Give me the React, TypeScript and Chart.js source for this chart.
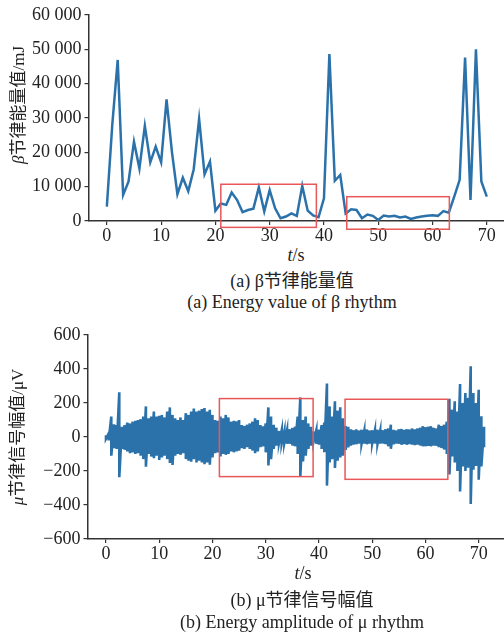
import React, { useEffect, useRef } from "react";
import { Chart, registerables } from "chart.js";

Chart.register(...registerables);

// ---------- data ----------
const betaTimes = [
  0, 1, 2, 3, 4, 5, 6, 7, 8, 9, 10, 11, 12, 13, 14, 15, 16, 17, 18, 19, 20, 21, 22, 23, 24, 25, 26, 27, 28, 29,
  30, 31, 32, 33, 34, 35, 36, 37, 38, 39, 40, 41, 42, 43, 44, 45, 46, 47, 48, 49, 50, 51, 52, 53, 54, 55, 56, 57,
  58, 59, 60, 61, 62, 63, 64, 65, 66, 67, 68, 69, 70,
];
const betaEnergy = [
  4200, 28000, 46900, 7600, 11500, 23100, 15300, 27700, 17100, 21700,
  17100, 35400, 20000, 7800, 12600, 8700, 15000, 29700, 13600, 17300,
  3000, 5100, 4700, 8300, 6100, 2600, 3200, 3600, 9800, 2800,
  9000, 3700, 800, 1300, 2200, 1500, 10200, 3000, 1600, 1100,
  6600, 48600, 11700, 13400, 2200, 3400, 3200, 800, 1900, 1500,
  300, 1600, 1300, 1500, 1000, 1300, 600, 1000, 1300, 1500,
  1700, 1500, 2900, 2400, 7100, 12000, 47600, 6100, 50000, 11500, 7100,
];

const muTimes = [
  0, 0.5, 1, 1.5, 2, 2.5, 3, 3.5, 4, 4.5, 5, 5.5, 6, 6.5, 7, 7.5, 8, 8.5, 9, 9.5,
  10, 10.5, 11, 11.5, 12, 12.5, 13, 13.5, 14, 14.5, 15, 15.5, 16, 16.5, 17, 17.5, 18, 18.5, 19, 19.5,
  20, 20.5, 21, 21.5, 22, 22.5, 23, 23.5, 24, 24.5, 25, 25.5, 26, 26.5, 27, 27.5, 28, 28.5, 29, 29.5,
  30, 30.5, 31, 31.5, 32, 32.5, 33, 33.5, 34, 34.5, 35, 35.5, 36, 36.5, 37, 37.5, 38, 38.5, 39, 39.5,
  40, 40.5, 41, 41.5, 42, 42.5, 43, 43.5, 44, 44.5, 45, 45.5, 46, 46.5, 47, 47.5, 48, 48.5, 49, 49.5,
  50, 50.5, 51, 51.5, 52, 52.5, 53, 53.5, 54, 54.5, 55, 55.5, 56, 56.5, 57, 57.5, 58, 58.5, 59, 59.5,
  60, 60.5, 61, 61.5, 62, 62.5, 63, 63.5, 64, 64.5, 65, 65.5, 66, 66.5, 67, 67.5, 68, 68.5, 69, 69.5,
  70, 70.5, 71,
];
const muUpper = [
  10, 20, 120, 75, 70, 263, 60, 70, 85, 80,
  90, 95, 100, 105, 120, 180, 110, 120, 150, 120,
  125, 130, 115, 150, 174, 130, 110, 100, 115, 100,
  140, 130, 150, 167, 150, 155, 165, 170, 150, 160,
  130, 100, 95, 120, 110, 130, 115, 90, 95, 92,
  100, 70, 65, 72, 80, 90, 110, 100, 70, 63,
  80, 174, 120, 72, 55, 35, 40, 35, 40, 45,
  53, 60, 120, 233, 100, 120, 80, 60, 33, 40,
  43, 70, 85, 314, 180, 120, 210, 155, 175, 110,
  65, 60, 45, 40, 45, 38, 42, 36, 44, 38,
  40, 38, 42, 36, 40, 45, 50, 72, 42, 38,
  45, 47, 42, 45, 44, 50, 45, 50, 55, 63,
  58, 60, 63, 55, 50, 72, 65, 72, 90, 225,
  161, 210, 150, 312, 200, 259, 230, 416, 259, 200,
  278, 122, 60,
];
const muLower = [
  -10, -20, -110, -65, -70, -237, -70, -75, -85, -95,
  -90, -100, -95, -110, -130, -175, -100, -115, -125, -110,
  -135, -120, -110, -130, -153, -165, -110, -100, -105, -95,
  -130, -140, -145, -130, -150, -140, -150, -160, -150, -163,
  -120, -95, -90, -114, -100, -105, -100, -85, -90, -85,
  -80, -65, -70, -60, -70, -80, -95, -85, -60, -55,
  -90, -167, -130, -70, -50, -35, -38, -35, -40, -40,
  -50, -55, -100, -231, -143, -110, -70, -50, -25, -40,
  -45, -70, -90, -286, -150, -130, -182, -140, -120, -110,
  -75, -60, -50, -45, -42, -38, -40, -38, -42, -38,
  -38, -38, -40, -38, -38, -42, -55, -69, -42, -38,
  -40, -45, -42, -45, -42, -45, -48, -45, -50, -55,
  -55, -52, -55, -50, -52, -60, -65, -74, -100, -221,
  -114, -150, -200, -320, -173, -200, -180, -394, -192, -170,
  -251, -173, -60,
];

const xTickValues = [0, 10, 20, 30, 40, 50, 60, 70];
const betaYTicks = [0, 10000, 20000, 30000, 40000, 50000, 60000];
const muYTicks = [-600, -400, -200, 0, 200, 400, 600];

// highlight boxes: [tStart, tEnd, yBottom, yTop]
const betaBoxes = [
  [21.0, 38.6, -1850, 10700],
  [44.2, 63.1, -2400, 7080],
];
const muBoxes = [
  [21.3, 38.9, -233, 226],
  [44.9, 64.2, -249, 222],
];

// ---------- styles ----------
const BLUE = "#2b72aa";
const RED = "#e8585a";
const AXIS = "#333333";
const TEXT = "#222222";
const SERIF = '"Liberation Serif", "Times New Roman", "Noto Sans CJK SC", serif';

const fmtSpace = (v: number) => {
  const s = String(Math.abs(v)).replace(/\B(?=(\d{3})+(?!\d))/g, " ");
  return (v < 0 ? "\u2212" : "") + s;
};

const boxPlugin = (boxes: number[][]) => ({
  id: "boxes",
  afterDraw(chart: any) {
    const { ctx } = chart;
    const x = chart.scales.x;
    const y = chart.scales.y;
    ctx.save();
    ctx.strokeStyle = RED;
    ctx.lineWidth = 1.5;
    boxes.forEach((b) => {
      const x0 = x.getPixelForValue(b[0]);
      const x1 = x.getPixelForValue(b[1]);
      const y0 = y.getPixelForValue(b[2]);
      const y1 = y.getPixelForValue(b[3]);
      ctx.strokeRect(x0, y1, x1 - x0, y0 - y1);
    });
    ctx.restore();
  },
});

function makeScales(xMin: number, xMax: number, yMin: number, yMax: number, yTicks: number[], yWidth: number, xHeight: number) {
  const tickFont = { family: SERIF, size: 18 };
  return {
    x: {
      type: "linear",
      min: xMin,
      max: xMax,
      afterBuildTicks: (s: any) => {
        s.ticks = xTickValues.map((v) => ({ value: v }));
      },
      afterFit: (s: any) => {
        s.height = xHeight;
      },
      ticks: { font: tickFont, color: TEXT, padding: 0, maxRotation: 0, autoSkip: false, callback: (v: any) => String(v) },
      grid: { drawOnChartArea: false, drawTicks: true, tickLength: 4, color: AXIS, lineWidth: 1.2 },
      border: { display: true, color: AXIS, width: 1.5 },
    },
    y: {
      type: "linear",
      min: yMin,
      max: yMax,
      afterBuildTicks: (s: any) => {
        s.ticks = yTicks.map((v) => ({ value: v }));
      },
      afterFit: (s: any) => {
        s.width = yWidth;
      },
      ticks: { font: tickFont, color: TEXT, padding: 3, autoSkip: false, callback: (v: any) => fmtSpace(Number(v)) },
      grid: { drawOnChartArea: false, drawTicks: true, tickLength: 4, color: AXIS, lineWidth: 1.2 },
      border: { display: true, color: AXIS, width: 1.5 },
    },
  };
}

function BetaChart() {
  const ref = useRef<HTMLCanvasElement | null>(null);
  useEffect(() => {
    if (!ref.current) return;
    const pts = betaTimes.map((t, i) => ({ x: t, y: betaEnergy[i] }));
    const chart = new Chart(ref.current, {
      type: "line",
      data: {
        datasets: [
          {
            data: pts,
            borderColor: BLUE,
            borderWidth: 2.5,
            pointRadius: 0,
            tension: 0,
            fill: false,
          },
        ],
      },
      options: {
        animation: false,
        responsive: false,
        devicePixelRatio: 1,
        layout: { padding: { top: 15, left: 0, right: 0, bottom: 0 } },
        plugins: { legend: { display: false }, tooltip: { enabled: false }, title: { display: false } },
        scales: makeScales(-3.38, 73.17, 0, 60000, betaYTicks, 88.5, 24) as any,
      },
      plugins: [boxPlugin(betaBoxes)],
    } as any);
    return () => chart.destroy();
  }, []);
  return <canvas ref={ref} width={504} height={245} style={{ position: "absolute", left: 0, top: 0, width: 504, height: 245 }} />;
}

function MuChart() {
  const ref = useRef<HTMLCanvasElement | null>(null);
  useEffect(() => {
    if (!ref.current) return;
    const pts: { x: number; y: number }[] = [];
    muTimes.forEach((t, i) => {
      pts.push({ x: t, y: muUpper[i] });
      pts.push({ x: t, y: muLower[i] });
    });
    const chart = new Chart(ref.current, {
      type: "line",
      data: {
        datasets: [
          {
            data: pts,
            borderColor: BLUE,
            backgroundColor: BLUE,
            borderWidth: 2.6,
            borderJoinStyle: "miter",
            pointRadius: 0,
            tension: 0,
            fill: false,
          },
        ],
      },
      options: {
        animation: false,
        responsive: false,
        devicePixelRatio: 1,
        layout: { padding: { top: 15, left: 0, right: 0, bottom: 0 } },
        plugins: { legend: { display: false }, tooltip: { enabled: false }, title: { display: false } },
        scales: makeScales(-3.47, 74.75, -600, 600, muYTicks, 87.5, 27) as any,
      },
      plugins: [boxPlugin(muBoxes)],
    } as any);
    return () => chart.destroy();
  }, []);
  return <canvas ref={ref} width={504} height={246} style={{ position: "absolute", left: 0, top: 320, width: 504, height: 246 }} />;
}

const Label = ({ x, y, size, rotate, children }: any) => (
  <div
    style={{
      position: "absolute",
      left: x,
      top: y,
      transform: `translate(-50%, -50%)${rotate ? " rotate(-90deg)" : ""}`,
      fontFamily: SERIF,
      fontSize: size,
      lineHeight: 1,
      whiteSpace: "nowrap",
      color: TEXT,
    }}
  >
    {children}
  </div>
);

export default function App() {
  return (
    <div style={{ position: "fixed", left: 0, top: 0, width: 504, height: 636, background: "#fff", overflow: "hidden" }}>
      <BetaChart />
      <MuChart />
      <Label x={18} y={105} size={17} rotate>
        <i>β</i>节律能量值/mJ
      </Label>
      <Label x={296} y={255} size={18}>
        <i>t</i>/s
      </Label>
      <Label x={292} y={281} size={18}>
        (a) β节律能量值
      </Label>
      <Label x={292} y={302} size={18}>
        (a) Energy value of β rhythm
      </Label>
      <Label x={17} y={437} size={17} rotate>
        <i>μ</i>节律信号幅值/μV
      </Label>
      <Label x={303} y={573} size={18}>
        <i>t</i>/s
      </Label>
      <Label x={302} y={600} size={18}>
        (b) μ节律信号幅值
      </Label>
      <Label x={302} y={622} size={18}>
        (b) Energy amplitude of μ rhythm
      </Label>
    </div>
  );
}
